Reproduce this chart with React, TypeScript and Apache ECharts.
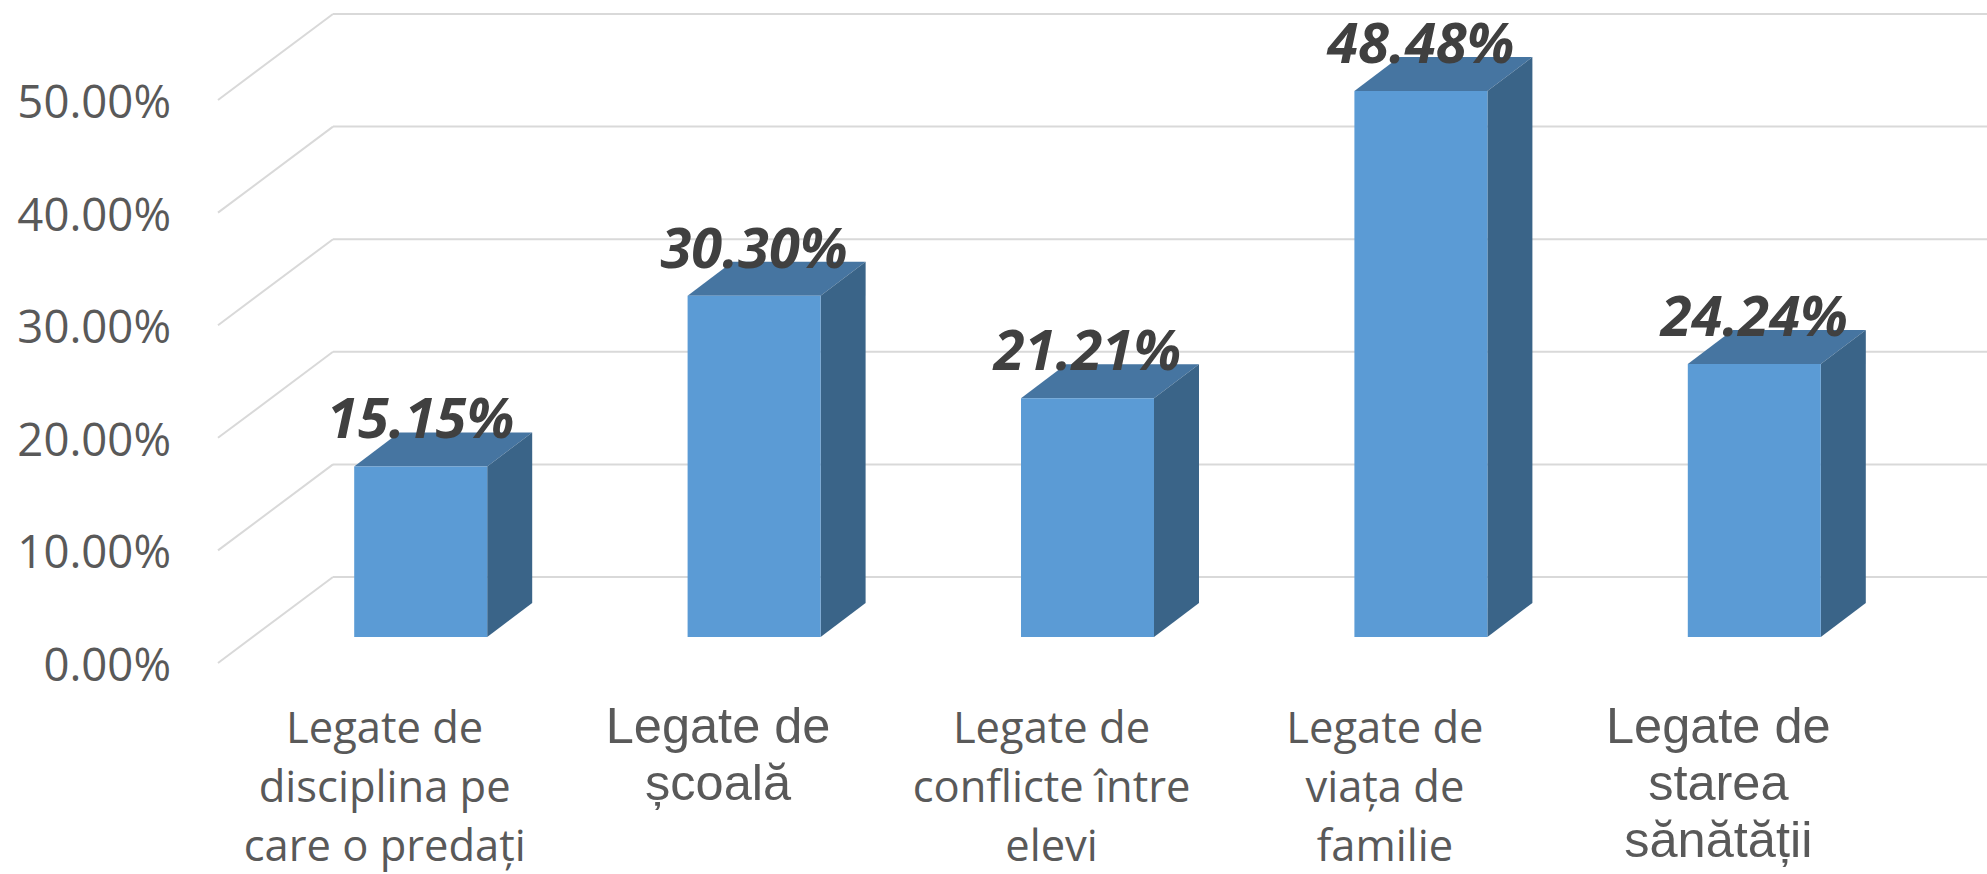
import React, { useEffect, useRef } from "react";
import * as echarts from "echarts";

const categories = [
  "Legate de\ndisciplina pe\ncare o predați",
  "Legate de\nșcoală",
  "Legate de\nconflicte între\nelevi",
  "Legate de\nviața de\nfamilie",
  "Legate de\nstarea\nsănătății",
];
const values = [15.15, 30.3, 21.21, 48.48, 24.24];
const yTicks = [0, 10, 20, 30, 40, 50];

const WALL_DX = 115;
const WALL_DY = 86;
const BAR_SHIFT_X = 36;
const BAR_SHIFT_Y = 26;
const BAR_W = 133;
const BAR_DX = 45;
const BAR_DY = 34;

const smallLabel = { fontFamily: "Open Sans", fontSize: 43.5, lineHeight: 59, color: "#595959" };
const largeLabel = { fontFamily: "Liberation Sans", fontSize: 50.5, lineHeight: 57, color: "#595959" };
const labelStyles = [smallLabel, largeLabel, smallLabel, smallLabel, largeLabel];

export default function App() {
  const ref = useRef<HTMLDivElement>(null);
  useEffect(() => {
    document.body.style.margin = "0";
    const chart = echarts.init(ref.current!, undefined, { renderer: "svg" });
    chart.setOption({
      animation: false,
      backgroundColor: "#ffffff",
      grid: { left: 218, top: 100, width: 1667, height: 563, containLabel: false, outerBoundsMode: "none" },
      xAxis: {
        type: "category",
        data: categories.map((c, i) => ({ value: c, textStyle: labelStyles[i] })),
        axisLine: { show: false },
        axisTick: { show: false },
        splitLine: { show: false },
        axisLabel: { interval: 0, margin: 34, hideOverlap: false },
      },
      yAxis: {
        type: "value",
        min: 0,
        max: 50,
        interval: 10,
        axisLine: { show: false },
        axisTick: { show: false },
        splitLine: { show: false },
        axisLabel: {
          margin: 47,
          fontFamily: "Open Sans",
          fontSize: 45.5,
          color: "#595959",
          formatter: (v: number) => v.toFixed(2) + "%",
        },
      },
      series: [
        {
          type: "custom",
          name: "walls",
          silent: true,
          clip: false,
          z: 1,
          data: yTicks.map((t) => [0, t]),
          encode: { x: 0, y: 1 },
          renderItem: (params: any, api: any) => {
            const p = api.coord([0, api.value(1)]);
            const x0 = params.coordSys.x;
            const x1 = x0 + params.coordSys.width;
            const y = p[1];
            const style = { stroke: "#D9D9D9", lineWidth: 2, fill: "none" };
            return {
              type: "group",
              children: [
                { type: "line", shape: { x1: x0, y1: y, x2: x0 + WALL_DX, y2: y - WALL_DY }, style },
                { type: "line", shape: { x1: x0 + WALL_DX, y1: y - WALL_DY, x2: x1 + WALL_DX, y2: y - WALL_DY }, style },
              ],
            };
          },
        },
        {
          type: "custom",
          name: "bars",
          clip: false,
          z: 2,
          data: values.map((v, i) => [i, v]),
          encode: { x: 0, y: 1 },
          renderItem: (params: any, api: any) => {
            const i = api.value(0);
            const v = api.value(1);
            const top = api.coord([i, v]);
            const base = api.coord([i, 0]);
            const l = top[0] + BAR_SHIFT_X - BAR_W / 2;
            const r = l + BAR_W;
            const t = top[1] - BAR_SHIFT_Y;
            const b = base[1] - BAR_SHIFT_Y;
            return {
              type: "group",
              children: [
                {
                  type: "polygon",
                  shape: { points: [[l, t], [r, t], [r + BAR_DX, t - BAR_DY], [l + BAR_DX, t - BAR_DY]] },
                  style: { fill: "#4675A1" },
                },
                {
                  type: "polygon",
                  shape: { points: [[r, t], [r + BAR_DX, t - BAR_DY], [r + BAR_DX, b - BAR_DY], [r, b]] },
                  style: { fill: "#3A6488" },
                },
                { type: "rect", shape: { x: l, y: t, width: BAR_W, height: b - t }, style: { fill: "#5B9BD5" } },
                {
                  type: "text",
                  x: (l + r) / 2,
                  y: t - 50,
                  style: {
                    text: v.toFixed(2) + "%",
                    fontFamily: "Open Sans",
                    fontSize: 56,
                    fontWeight: "bold",
                    fontStyle: "italic",
                    fill: "#404040",
                    align: "center",
                    verticalAlign: "middle",
                  },
                },
              ],
            };
          },
        },
      ],
    });
    return () => chart.dispose();
  }, []);
  return <div ref={ref} style={{ width: 1987, height: 874, overflow: "hidden" }} />;
}
